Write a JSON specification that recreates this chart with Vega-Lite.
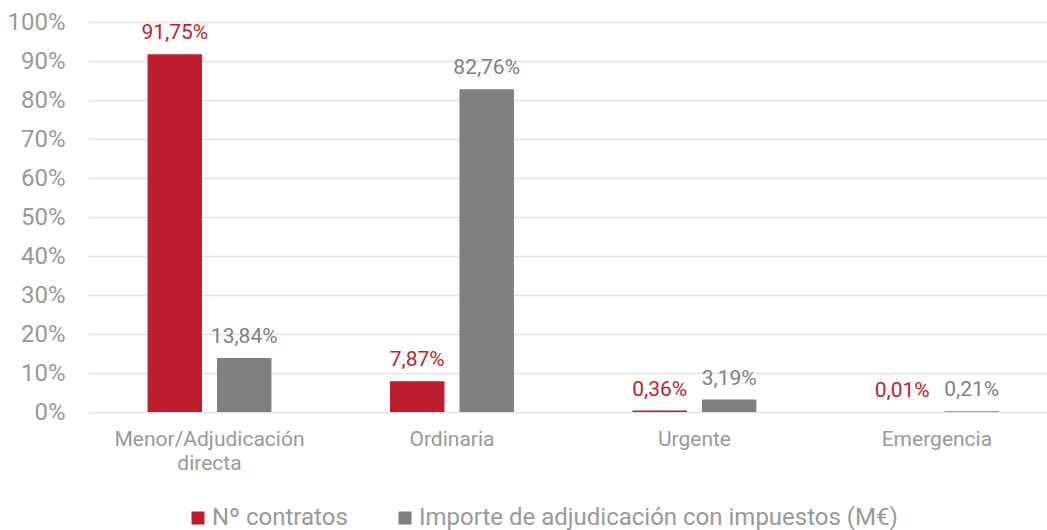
{
  "$schema": "https://vega.github.io/schema/vega-lite/v6.json",
  "width": 959,
  "height": 390,
  "autosize": {"type": "none"},
  "padding": {"left": 88, "top": 22, "right": 0, "bottom": 118},
  "background": "white",
  "config": {
    "view": {"stroke": null},
    "font": "Roboto",
    "locale": {"number": {"decimal": ",", "thousands": ".", "grouping": [3], "currency": ["", " €"]}},
    "legend": {"padding": 0}
  },
  "data": {
    "values": [
      {"cat": "Menor/Adjudicación directa", "serie": "Nº contratos", "v": 0.9175},
      {"cat": "Menor/Adjudicación directa", "serie": "Importe de adjudicación con impuestos (M€)", "v": 0.1384},
      {"cat": "Ordinaria", "serie": "Nº contratos", "v": 0.0787},
      {"cat": "Ordinaria", "serie": "Importe de adjudicación con impuestos (M€)", "v": 0.8276},
      {"cat": "Urgente", "serie": "Nº contratos", "v": 0.0036},
      {"cat": "Urgente", "serie": "Importe de adjudicación con impuestos (M€)", "v": 0.0319},
      {"cat": "Emergencia", "serie": "Nº contratos", "v": 0.0001},
      {"cat": "Emergencia", "serie": "Importe de adjudicación con impuestos (M€)", "v": 0.0021}
    ]
  },
  "encoding": {
    "x": {
      "field": "cat", "type": "nominal",
      "sort": ["Menor/Adjudicación directa", "Ordinaria", "Urgente", "Emergencia"],
      "scale": {"paddingInner": 0.489, "paddingOuter": 0.222, "align": 0.553},
      "axis": {
        "title": null, "domain": false, "ticks": false, "grid": false, "labelAngle": 0,
        "labelFont": "Roboto", "labelFontSize": 21, "labelColor": "#999999",
        "labelPadding": 16, "labelLineHeight": 24, "labelLimit": 0,
        "labelExpr": "datum.label == 'Menor/Adjudicación directa' ? ['Menor/Adjudicación', 'directa'] : datum.label"
      }
    },
    "xOffset": {
      "field": "serie", "type": "nominal",
      "sort": ["Nº contratos", "Importe de adjudicación con impuestos (M€)"],
      "scale": {"paddingInner": 0.216, "paddingOuter": 0}
    },
    "y": {
      "field": "v", "type": "quantitative",
      "scale": {"domain": [0, 1], "nice": false},
      "axis": {
        "title": null, "format": ".0%", "values": [0, 0.1, 0.2, 0.3, 0.4, 0.5, 0.6, 0.7, 0.8, 0.9, 1],
        "labelOverlap": false,
        "domain": false, "ticks": false, "grid": true, "gridColor": "#e4e4e4", "gridWidth": 1.5,
        "labelFont": "Roboto", "labelFontSize": 24, "labelColor": "#999999", "labelPadding": 23
      }
    },
    "color": {
      "field": "serie", "type": "nominal",
      "sort": ["Nº contratos", "Importe de adjudicación con impuestos (M€)"],
      "scale": {"domain": ["Nº contratos", "Importe de adjudicación con impuestos (M€)"], "range": ["#be1e2d", "#7f7f7f"]},
      "legend": {
        "title": null, "orient": "none", "legendX": 98, "legendY": 484, "direction": "horizontal",
        "symbolType": "square", "symbolSize": 169, "symbolStrokeWidth": 0, "symbolOpacity": 1,
        "labelFont": "Roboto", "labelFontSize": 24, "labelColor": "#999999", "labelOffset": 2,
        "columnPadding": 45, "labelLimit": 0
      }
    }
  },
  "layer": [
    {"mark": {"type": "bar"}},
    {
      "mark": {"type": "text", "dy": -15, "baseline": "alphabetic", "font": "Roboto", "fontSize": 21},
      "encoding": {"text": {"field": "v", "type": "quantitative", "format": ".2%"}}
    }
  ]
}
